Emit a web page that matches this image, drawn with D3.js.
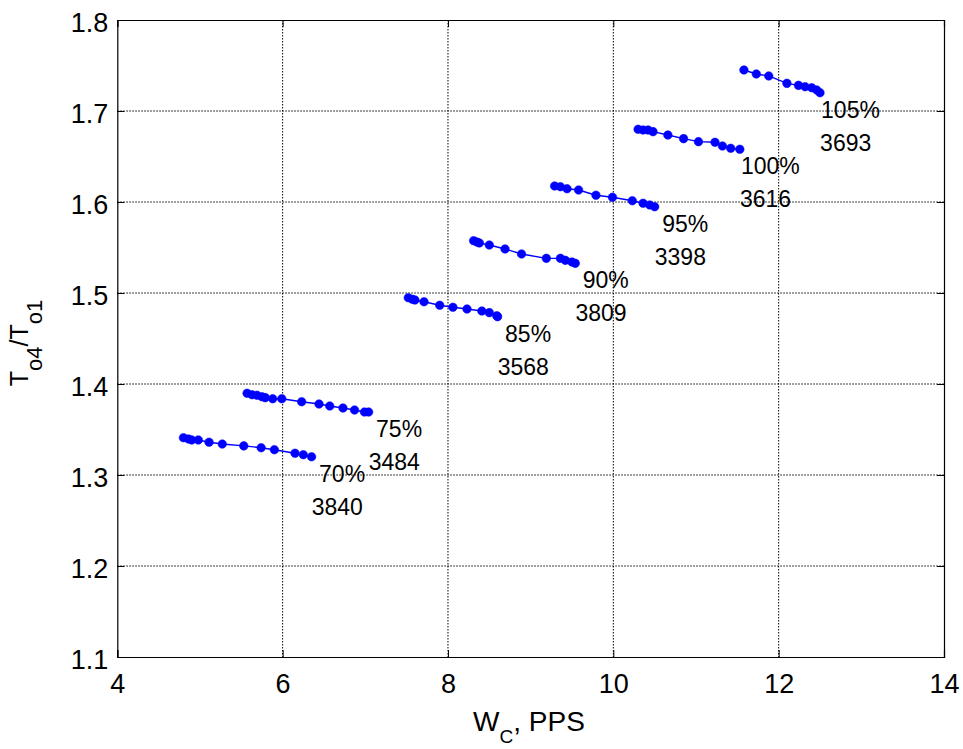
<!DOCTYPE html>
<html>
<head>
<meta charset="utf-8">
<script src="https://cdn.jsdelivr.net/npm/d3@7"></script>
<style>
  html, body { margin: 0; padding: 0; background: #fff; }
  svg { display: block; font-family: "Liberation Sans", Arial, Helvetica, sans-serif; }
</style>
</head>
<body>
<svg id="chart" width="963" height="749"></svg>
<script>
// ---- data ----
const xTicks = [4, 6, 8, 10, 12, 14];
const yTicks = [1.1, 1.2, 1.3, 1.4, 1.5, 1.6, 1.7, 1.8];

const speedLabels = ["70%", "75%", "85%", "90%", "95%", "100%", "105%"];
const rpmLabels = ["3840", "3484", "3568", "3809", "3398", "3616", "3693"];

const wc70 = [4.80, 4.86, 4.90, 4.98, 5.11, 5.27, 5.53, 5.74, 5.90, 6.15, 6.25, 6.35];
const tr70 = [1.341, 1.3396, 1.3385, 1.3385, 1.336, 1.334, 1.332, 1.330, 1.3278, 1.3239, 1.3223, 1.320];

const wc75 = [5.57, 5.63, 5.69, 5.75, 5.79, 5.88, 5.99, 6.23, 6.44, 6.57, 6.73, 6.87, 6.99, 7.04];
const tr75 = [1.3898, 1.3882, 1.3876, 1.386, 1.385, 1.3838, 1.3838, 1.3805, 1.378, 1.3758, 1.3736, 1.3714, 1.3692, 1.3692];

const wc85 = [7.52, 7.57, 7.60, 7.71, 7.90, 8.06, 8.23, 8.41, 8.50, 8.59, 8.60];
const tr85 = [1.4948, 1.4931, 1.4923, 1.4904, 1.4865, 1.4843, 1.4824, 1.4802, 1.4784, 1.475, 1.474];

const wc90 = [8.31, 8.35, 8.38, 8.50, 8.69, 8.89, 9.19, 9.36, 9.42, 9.50, 9.54];
const tr90 = [1.5575, 1.556, 1.555, 1.5527, 1.5484, 1.5429, 1.5381, 1.5381, 1.5359, 1.534, 1.5326];

const wc95 = [9.29, 9.36, 9.44, 9.58, 9.79, 9.99, 10.23, 10.36, 10.44, 10.50];
const tr95 = [1.6176, 1.6168, 1.6146, 1.6132, 1.6074, 1.6052, 1.6014, 1.5986, 1.5967, 1.5948];

const wc100 = [10.30, 10.36, 10.42, 10.48, 10.66, 10.85, 11.03, 11.23, 11.32, 11.42, 11.53];
const tr100 = [1.6799, 1.6791, 1.6791, 1.6773, 1.6736, 1.6696, 1.6663, 1.6656, 1.6615, 1.659, 1.6579];

const wc105 = [11.58, 11.73, 11.88, 12.10, 12.24, 12.32, 12.40, 12.46, 12.50];
const tr105 = [1.7451, 1.7407, 1.7385, 1.7304, 1.7282, 1.7267, 1.7256, 1.7231, 1.7201];

const wcSeries = [wc70, wc75, wc85, wc90, wc95, wc100, wc105];
const trSeries = [tr70, tr75, tr85, tr90, tr95, tr100, tr105];

(function () {
// ---- layout ----
const mLeft = 117.3, mRight = 944, mTop = 20, mBottom = 657;
const svg = d3.select("#chart");
svg.append("rect").attr("width", 963).attr("height", 749).attr("fill", "#fff");

const x = d3.scaleLinear().domain([4, 14]).range([mLeft, mRight]);
const y = d3.scaleLinear().domain([1.1, 1.8]).range([mBottom, mTop]);

const g = svg.append("g");

// grid
g.selectAll(".vgrid").data(xTicks.slice(1, -1)).enter().append("line")
  .attr("x1", d => x(d)).attr("x2", d => x(d)).attr("y1", mTop).attr("y2", mBottom)
  .attr("stroke", "#000").attr("stroke-width", 1).attr("stroke-dasharray", "1.5,1.5");
g.selectAll(".hgrid").data(yTicks.slice(1, -1)).enter().append("line")
  .attr("x1", mLeft).attr("x2", mRight).attr("y1", d => y(d)).attr("y2", d => y(d))
  .attr("stroke", "#000").attr("stroke-width", 1).attr("stroke-dasharray", "1.5,1.5");

// axes (ticks inward)
const tickFont = 27;
const xAxisB = d3.axisBottom(x).tickValues(xTicks).tickSize(-7).tickPadding(14).tickFormat(d3.format("d"));
const xAxisT = d3.axisTop(x).tickValues(xTicks).tickSize(-7).tickFormat("");
const yAxisL = d3.axisLeft(y).tickValues(yTicks).tickSize(-7).tickPadding(16).tickFormat(d3.format(".1f"));
const yAxisR = d3.axisRight(y).tickValues(yTicks).tickSize(-7).tickFormat("");

function styleAxis(sel) {
  sel.selectAll("path.domain").attr("stroke", "#000").attr("stroke-width", 1.2);
  sel.selectAll(".tick line").attr("stroke", "#000").attr("stroke-width", 1);
  sel.selectAll("text").attr("fill", "#000").style("font-size", tickFont + "px")
    .style("font-family", "'Liberation Sans', Arial, sans-serif");
}
const gxb = svg.append("g").attr("transform", `translate(0,${mBottom})`).call(xAxisB).call(styleAxis);
gxb.selectAll("text").attr("dy", "0").attr("y", 36);
svg.append("g").attr("transform", `translate(0,${mTop})`).call(xAxisT).call(styleAxis);
const gyl = svg.append("g").attr("transform", `translate(${mLeft},0)`).call(yAxisL).call(styleAxis);
gyl.selectAll("text").attr("dy", "0").attr("y", 11).attr("x", -9);
svg.append("g").attr("transform", `translate(${mRight},0)`).call(yAxisR).call(styleAxis);

// series
const line = d3.line().x(d => x(d[0])).y(d => y(d[1]));
wcSeries.forEach((wc, i) => {
  const pts = wc.map((v, j) => [v, trSeries[i][j]]);
  svg.append("path").datum(pts).attr("d", line)
    .attr("fill", "none").attr("stroke", "#0000ff").attr("stroke-width", 1.4);
  svg.append("g").selectAll("circle").data(pts).enter().append("circle")
    .attr("cx", d => x(d[0])).attr("cy", d => y(d[1])).attr("r", 4.3)
    .attr("fill", "#0000ff").attr("stroke", "#0000ff").attr("stroke-width", 0.5);
  const last = pts[pts.length - 1];
  const lx = x(last[0]), ly = y(last[1]);
  svg.append("text").attr("x", lx + 30.5).attr("y", ly + 25).attr("text-anchor", "middle")
    .style("font-size", "23px").attr("fill", "#000").text(speedLabels[i]);
  svg.append("text").attr("x", lx + 25.7).attr("y", ly + 58).attr("text-anchor", "middle")
    .style("font-size", "23px").attr("fill", "#000").text(rpmLabels[i]);
});

// axis labels
const xl = svg.append("text").attr("x", 529).attr("y", 731).attr("text-anchor", "middle")
  .style("font-size", "28px").attr("fill", "#000");
xl.append("tspan").text("W");
xl.append("tspan").attr("dy", 12).style("font-size", "19px").text("C");
xl.append("tspan").attr("dy", -12).text(", PPS");

const yl = svg.append("text").attr("transform", "translate(28,343) rotate(-90)")
  .attr("text-anchor", "middle").style("font-size", "25px").attr("fill", "#000");
yl.append("tspan").text("T");
yl.append("tspan").attr("dy", 14).style("font-size", "22px").text("o4");
yl.append("tspan").attr("dy", -14).text("/T");
yl.append("tspan").attr("dy", 14).style("font-size", "22px").text("o1");
})();
</script>
</body>
</html>
